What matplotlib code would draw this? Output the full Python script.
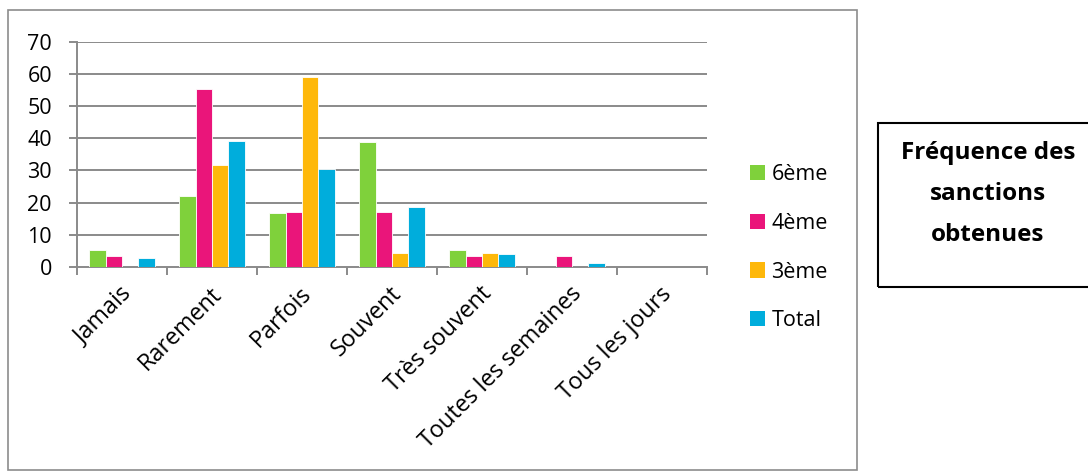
import matplotlib
matplotlib.use("Agg")
import matplotlib.pyplot as plt
import matplotlib.transforms as mtransforms
import numpy as np
from matplotlib.patches import Rectangle, Patch

categories = ["Jamais", "Rarement", "Parfois", "Souvent", "Très souvent",
              "Toutes les semaines", "Tous les jours"]
series_names = ["6ème", "4ème", "3ème", "Total"]
v6 = [5.3, 22.0, 16.7, 38.8, 5.3, 0, 0]
v4 = [3.3, 55.2, 17.1, 17.1, 3.3, 3.3, 0]
v3 = [0, 31.7, 59.0, 4.3, 4.3, 0, 0]
vt = [2.7, 39.1, 30.4, 18.6, 4.1, 1.2, 0]
colors = ["#7FD13B", "#EA157A", "#FEB80A", "#00ADDC"]
yticks = [0, 10, 20, 30, 40, 50, 60, 70]

plt.rcParams['font.family'] = ['Open Sans', 'DejaVu Sans']

W, H = 1088, 472
fig = plt.figure(figsize=(W / 100, H / 100), dpi=100)
FS = 15.5

# outer chart border
fig.patches.append(Rectangle((8 / W, 1 - 470 / H), (857 - 8) / W, (470 - 10) / H,
                             transform=fig.transFigure, fill=False,
                             edgecolor="#8c8c8c", linewidth=1.2))

ax = fig.add_axes([77 / W, 1 - 267 / H, 630 / W, (267 - 41.7) / H])
x = np.arange(len(categories))
bw = 0.183
data = [v6, v4, v3, vt]
for i, (vals, c) in enumerate(zip(data, colors)):
    ax.bar(x + (i - 1.5) * bw, vals, width=bw, color=c, edgecolor="white",
           linewidth=0.6, zorder=3, label=series_names[i])

ax.set_xlim(-0.5, len(categories) - 0.5)
ax.set_ylim(0, 70)
ax.set_yticks(yticks)
ax.set_yticklabels([str(t) for t in yticks], fontsize=FS)
for t in yticks[1:]:
    ax.axhline(t, color="#8a8a8a", linewidth=1.4, zorder=1)
ax.set_xticks(np.arange(len(categories) + 1) - 0.5)
ax.set_xticklabels([])
ax.set_xticks(x, minor=True)
ax.set_xticklabels(categories, minor=True, rotation=45, ha="right",
                   va="center", rotation_mode="anchor", fontsize=16.8)
ax.tick_params(axis="x", which="minor", length=0, pad=17)
offset = mtransforms.ScaledTranslation(6 / 100, 0, fig.dpi_scale_trans)
for lab in ax.get_xticklabels(minor=True):
    lab.set_transform(lab.get_transform() + offset)
ax.tick_params(axis="x", which="major", length=6, color="#8a8a8a", width=1.4)
ax.tick_params(axis="y", length=6, color="#8a8a8a", width=1.4, pad=12)
for s in ["top", "right"]:
    ax.spines[s].set_visible(False)
for s in ["left", "bottom"]:
    ax.spines[s].set_color("#8a8a8a")
    ax.spines[s].set_linewidth(1.4)

handles = [Patch(facecolor=c, edgecolor="none") for c in colors]
fig.legend(handles, series_names, loc="upper left",
           bbox_to_anchor=(750 / W, 1 - 164 / H), frameon=False,
           fontsize=FS, handlelength=0.7, handleheight=0.7,
           handletextpad=0.3, labelspacing=1.29, borderaxespad=0,
           borderpad=0)

# title box
fig.patches.append(Rectangle((878 / W, 1 - 287 / H), (1090 - 878) / W, (287 - 123) / H,
                             transform=fig.transFigure, fill=False,
                             edgecolor="black", linewidth=1.5))
fig.text(988 / W, 1 - 194 / H, "Fréquence des\nsanctions\nobtenues",
         ha="center", va="center", fontsize=17.5, fontweight="bold",
         linespacing=1.95)

fig.savefig("out.png", dpi=100)
